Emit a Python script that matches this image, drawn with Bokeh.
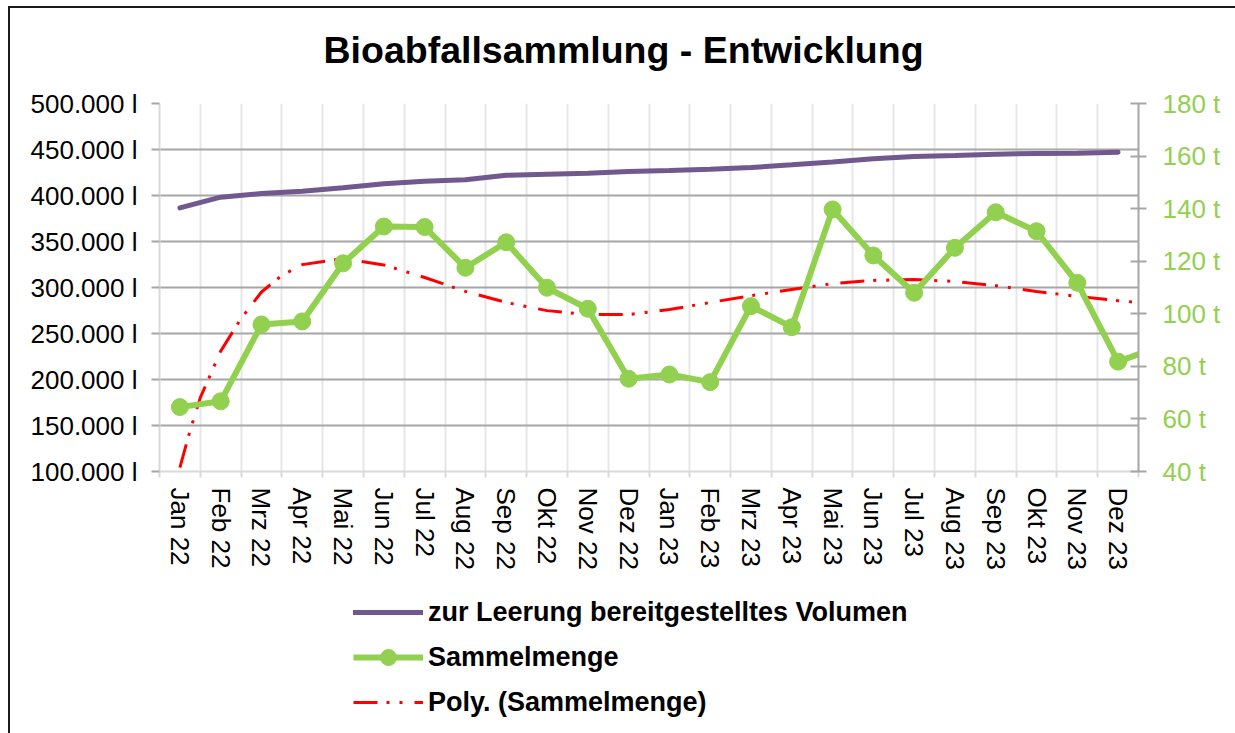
import numpy as np
from bokeh.plotting import figure
from bokeh.layouts import column
from bokeh.models import Range1d, LinearAxis, FixedTicker, Legend, LegendItem, Label
from bokeh.embed import file_html
from bokeh.resources import INLINE

# ---- data -------------------------------------------------------------
title_text = "Bioabfallsammlung - Entwicklung"

months = ["Jan 22", "Feb 22", "Mrz 22", "Apr 22", "Mai 22", "Jun 22",
          "Jul 22", "Aug 22", "Sep 22", "Okt 22", "Nov 22", "Dez 22",
          "Jan 23", "Feb 23", "Mrz 23", "Apr 23", "Mai 23", "Jun 23",
          "Jul 23", "Aug 23", "Sep 23", "Okt 23", "Nov 23", "Dez 23"]

# zur Leerung bereitgestelltes Volumen (Liter, left axis)
volumen = [386500, 398200, 402200, 404700, 408400, 412700,
           415500, 417100, 422000, 423200, 424300, 426000,
           427200, 428600, 430400, 433400, 436500, 439900,
           442400, 443500, 444900, 445700, 446000, 447000]

# Sammelmenge (Tonnen, right axis) - last value is the following month (clipped)
sammelmenge = [64.5, 66.7, 95.9, 97.1, 119.2, 133.2,
               133.0, 117.5, 127.2, 109.9, 101.9, 75.3,
               76.9, 74.0, 102.9, 94.9, 139.7, 122.2,
               108.0, 125.1, 138.6, 131.4, 111.8, 81.8, 87.5]

# Poly. (Sammelmenge) trend line (month index, tonnes)
trend_pos = [0, 0.25, 0.5, 0.75, 1, 1.5, 2, 2.5, 3, 4, 5, 6, 7, 8, 9, 10, 11,
             12, 13, 14, 15, 16, 17, 18, 19, 20, 21, 22, 23, 23.5]
trend_val = [41.5, 55.6, 68.1, 76.9, 85.8, 98.2, 108.3, 114.6, 118.7, 121.0,
             118.6, 113.8, 108.5, 104.3, 101.2, 99.7, 99.7, 101.6, 104.3, 106.9,
             109.2, 111.5, 112.7, 113.0, 112.3, 110.7, 108.5, 106.6, 105.0, 104.3]

left_ticks = [100000, 150000, 200000, 250000, 300000, 350000, 400000, 450000, 500000]
right_ticks = [40, 60, 80, 100, 120, 140, 160, 180]

legend_labels = ["zur Leerung bereitgestelltes Volumen", "Sammelmenge",
                 "Poly. (Sammelmenge)"]

# ---- styles -----------------------------------------------------------
FONT = "Liberation Sans"
PURPLE = "#71588F"
GREEN = "#92D050"
RED = "#FF0000"
TREND_DASH = "24 9 3 10 3 12"

n = len(months)
centers = list(range(n))
bounds = [i - 0.5 for i in range(n + 1)]

W = 1225


def strip(height):
    f = figure(width=W, height=height, output_backend="svg", toolbar_location=None,
               x_range=Range1d(0, 1), y_range=Range1d(0, 1),
               x_axis_location=None, y_axis_location=None,
               min_border_left=0, min_border_right=0, min_border_top=0,
               min_border_bottom=0)
    f.grid.visible = False
    f.outline_line_color = None
    f.background_fill_color = "white"
    f.border_fill_color = "white"
    return f


# ---- title strip ------------------------------------------------------
top = strip(70)
top.add_layout(Label(x=164, y=29, x_units="screen", y_units="screen",
                     text=title_text, text_font=FONT, text_font_size="37.5px",
                     text_font_style="bold", text_color="black",
                     text_baseline="alphabetic", text_align="left"))

# ---- main chart -------------------------------------------------------
p = figure(width=W, height=512, output_backend="svg", toolbar_location=None,
           x_range=Range1d(-0.5, n - 0.5),
           y_range=Range1d(left_ticks[0], left_ticks[-1]),
           min_border_left=149, min_border_right=97,
           min_border_top=25, min_border_bottom=119)
p.outline_line_color = None
p.background_fill_color = "white"
p.border_fill_color = "white"

p.extra_y_ranges = {"t": Range1d(right_ticks[0], right_ticks[-1])}

# x axis
xa = p.xaxis[0]
xa.ticker = FixedTicker(ticks=centers, minor_ticks=bounds)
xa.major_label_overrides = {i: m for i, m in enumerate(months)}
xa.major_label_orientation = "vertical"
xa.major_label_text_font = FONT
xa.major_label_text_font_size = "26px"
xa.major_label_text_color = "black"
xa.major_tick_line_color = None
xa.major_tick_out = 6
xa.major_tick_in = 0
xa.major_label_standoff = 10
xa.minor_tick_line_color = "#D9D9D9"
xa.minor_tick_line_width = 2
xa.minor_tick_out = 6
xa.minor_tick_in = 0
xa.axis_line_color = "#D9D9D9"
xa.axis_line_width = 2

# left axis
ya = p.yaxis[0]
ya.ticker = FixedTicker(ticks=left_ticks, minor_ticks=[])
ya.major_label_overrides = {v: f"{v:,}".replace(",", ".") + " l" for v in left_ticks}
ya.major_label_text_font = FONT
ya.major_label_text_font_size = "26px"
ya.major_label_text_color = "black"
ya.major_tick_line_color = "#A6A6A6"
ya.major_tick_line_width = 2
ya.major_tick_out = 8
ya.major_tick_in = 0
ya.major_label_standoff = 14
ya.minor_tick_line_color = None
ya.axis_line_color = "#D9D9D9"
ya.axis_line_width = 2

# right axis
ra = LinearAxis(y_range_name="t", ticker=FixedTicker(ticks=right_ticks, minor_ticks=[]))
ra.major_label_overrides = {v: f"{v} t" for v in right_ticks}
ra.major_label_text_font = FONT
ra.major_label_text_font_size = "26px"
ra.major_label_text_color = GREEN
ra.major_tick_line_color = "#A6A6A6"
ra.major_tick_line_width = 2
ra.major_tick_out = 8
ra.major_tick_in = 8
ra.major_label_standoff = 16
ra.minor_tick_line_color = None
ra.axis_line_color = "#A6A6A6"
ra.axis_line_width = 2
p.add_layout(ra, "right")

# grids
p.ygrid.ticker = FixedTicker(ticks=left_ticks)
p.ygrid.grid_line_color = "#A6A6A6"
p.ygrid.grid_line_width = 2
p.xgrid.ticker = FixedTicker(ticks=bounds)
p.xgrid.grid_line_color = "#E6E6E6"
p.xgrid.grid_line_width = 2

# series
p.line(trend_pos, trend_val, y_range_name="t", line_color=RED,
       line_width=3, line_dash=TREND_DASH)
p.line(centers, volumen, line_color=PURPLE, line_width=5, line_cap="round")
s_x = list(range(len(sammelmenge)))
p.line(s_x, sammelmenge, y_range_name="t", line_color=GREEN, line_width=6,
       line_join="round")
p.scatter(s_x, sammelmenge, y_range_name="t", size=17, marker="circle",
          fill_color=GREEN, line_color=GREEN)

# ---- legend strip -----------------------------------------------------
lg = strip(143)
nan = np.array([np.nan])
k_vol = lg.line(nan, nan, line_color=PURPLE, line_width=5, line_cap="round")
k_sl = lg.line(nan, nan, line_color=GREEN, line_width=6)
k_ss = lg.scatter(nan, nan, size=17, marker="circle", fill_color=GREEN,
                  line_color=GREEN)
k_tr = lg.line(nan, nan, line_color=RED, line_width=3, line_dash=TREND_DASH)

legend = Legend(items=[
    LegendItem(label=legend_labels[0], renderers=[k_vol]),
    LegendItem(label=legend_labels[1], renderers=[k_sl, k_ss]),
    LegendItem(label=legend_labels[2], renderers=[k_tr]),
], location=(194, 11), orientation="vertical")
legend.label_text_font = FONT
legend.label_text_font_size = "27px"
legend.label_text_font_style = "bold"
legend.label_text_color = "black"
legend.glyph_width = 70
legend.glyph_height = 40
legend.label_height = 40
legend.spacing = 5
legend.label_standoff = 5
legend.padding = 0
legend.margin = 0
legend.border_line_color = None
legend.background_fill_alpha = 0
lg.add_layout(legend, "center")

layout = column(top, p, lg, spacing=0,
                styles={"margin-left": "8px", "margin-top": "6px",
                        "border-left": "2px solid #1a1a1a",
                        "border-top": "2px solid #1a1a1a"})

open("out.html", "w").write(file_html(layout, INLINE))
